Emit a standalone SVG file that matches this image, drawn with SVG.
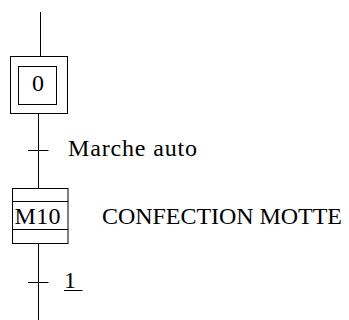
<svg xmlns="http://www.w3.org/2000/svg" width="349" height="320" viewBox="0 0 349 320">
<style>
.s{fill:none;stroke:#000;stroke-width:1}
.t{font-family:"Liberation Serif","Times New Roman",serif;font-size:24px;fill:#000}
</style>
<rect width="349" height="320" fill="#fff"/>
<g id="connectors">
<line class="s" x1="40.5" y1="12" x2="40.5" y2="56.5"/>
<line class="s" x1="38.5" y1="113.5" x2="38.5" y2="188.5"/>
<line class="s" x1="38.5" y1="243.5" x2="38.5" y2="320"/>
<g id="transition-marche-auto">
<line class="s" x1="28" y1="150.5" x2="48.5" y2="150.5"/>
<text class="t" x="68" y="156" textLength="129" lengthAdjust="spacing">Marche auto</text>
</g>
<g id="transition-1">
<line class="s" x1="28" y1="282.5" x2="48.5" y2="282.5"/>
<text class="t" x="64" y="287.5">1</text>
<line class="s" x1="64" y1="290.5" x2="82.5" y2="290.5"/>
</g>
</g>
<g id="step-0">
<rect class="s" x="10.5" y="56.5" width="57" height="57"/>
<rect class="s" x="18.5" y="66.5" width="38" height="38"/>
<text class="t" x="38" y="90.5" text-anchor="middle">0</text>
</g>
<g id="step-M10">
<rect class="s" x="12.5" y="188.5" width="55.5" height="55"/>
<line class="s" x1="12.5" y1="201.5" x2="68" y2="201.5"/>
<line class="s" x1="12.5" y1="229.5" x2="68" y2="229.5"/>
<text class="t" x="14.5" y="224" textLength="46" lengthAdjust="spacing">M10</text>
<text class="t" x="102" y="224" textLength="240" lengthAdjust="spacing">CONFECTION MOTTE</text>
</g>
</svg>
